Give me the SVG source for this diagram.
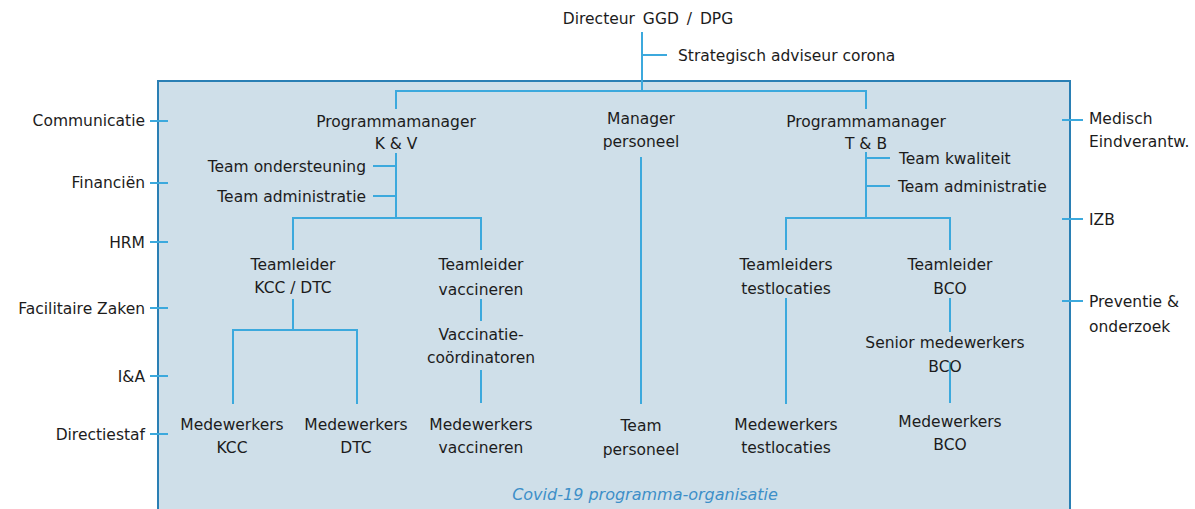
<svg xmlns="http://www.w3.org/2000/svg" width="1195" height="509" viewBox="0 0 1195 509">
<style>
text{font-family:"DejaVu Sans","Noto Sans",sans-serif;font-size:15.5px;fill:#1c1c1c}
.m{text-anchor:middle}
.e{text-anchor:end}
.cap{font-style:italic;fill:#3d8fc8;font-size:16px}
.ln{stroke:#3ca9dd;stroke-width:2;fill:none}
</style>
<rect width="1195" height="509" fill="#ffffff"/>
<rect id="frame" x="158" y="81" width="912" height="440" fill="#cfdfe9" stroke="#2a7fb4" stroke-width="2"/>
<g id="connectors" class="ln">
<path d="M642 32V91M642 55H667"/>
<path d="M396 109V91H866V109"/>
<path d="M396 153V218M373 166H396M373 196H396"/>
<path d="M293 250V218H481V250"/>
<path d="M293 299V330M233 404V330H357V404"/>
<path d="M481 299V321M481 370V403"/>
<path d="M641 157V404"/>
<path d="M866 152V218M866 158H890M866 186H890"/>
<path d="M786 250V218H950V250"/>
<path d="M786 298V404"/>
<path d="M950 298V332M950 362V403"/>
<path d="M150 121H168M150 183H168M150 242H168M150 308H168M150 376H168M150 434H168"/>
<path d="M1062 120H1083M1062 219H1083M1062 301H1083"/>
</g>
<g id="directeur"><text class="m" x="648" y="24" word-spacing="3">Directeur GGD / DPG</text></g>
<g id="strategisch"><text x="678" y="61">Strategisch adviseur corona</text></g>
<g id="pm-kv"><text class="m" x="396" y="127">Programmamanager</text><text class="m" x="396" y="149">K &amp; V</text></g>
<g id="team-ondersteuning"><text class="e" x="366" y="172">Team ondersteuning</text></g>
<g id="team-admin-kv"><text class="e" x="366" y="202">Team administratie</text></g>
<g id="manager-personeel"><text class="m" x="641" y="124">Manager</text><text class="m" x="641" y="147">personeel</text></g>
<g id="pm-tb"><text class="m" x="866" y="127">Programmamanager</text><text class="m" x="866" y="149">T &amp; B</text></g>
<g id="team-kwaliteit"><text x="899" y="164">Team kwaliteit</text></g>
<g id="team-admin-tb"><text x="898" y="192">Team administratie</text></g>
<g id="tl-kcc"><text class="m" x="293" y="270">Teamleider</text><text class="m" x="293" y="293">KCC / DTC</text></g>
<g id="tl-vacc"><text class="m" x="481" y="270">Teamleider</text><text class="m" x="481" y="295">vaccineren</text></g>
<g id="vacc-coord"><text class="m" x="481" y="340">Vaccinatie-</text><text class="m" x="481" y="363">coördinatoren</text></g>
<g id="mw-kcc"><text class="m" x="232" y="430">Medewerkers</text><text class="m" x="232" y="453">KCC</text></g>
<g id="mw-dtc"><text class="m" x="356" y="430">Medewerkers</text><text class="m" x="356" y="453">DTC</text></g>
<g id="mw-vacc"><text class="m" x="481" y="430">Medewerkers</text><text class="m" x="481" y="453">vaccineren</text></g>
<g id="team-personeel"><text class="m" x="641" y="431">Team</text><text class="m" x="641" y="455">personeel</text></g>
<g id="tl-test"><text class="m" x="786" y="270">Teamleiders</text><text class="m" x="786" y="294">testlocaties</text></g>
<g id="mw-test"><text class="m" x="786" y="430">Medewerkers</text><text class="m" x="786" y="453">testlocaties</text></g>
<g id="tl-bco"><text class="m" x="950" y="270">Teamleider</text><text class="m" x="950" y="294">BCO</text></g>
<g id="senior-bco"><text class="m" x="945" y="348">Senior medewerkers</text><text class="m" x="945" y="372">BCO</text></g>
<g id="mw-bco"><text class="m" x="950" y="427">Medewerkers</text><text class="m" x="950" y="450">BCO</text></g>
<g id="communicatie"><text class="e" x="145" y="126">Communicatie</text></g>
<g id="financien"><text class="e" x="145" y="188">Financiën</text></g>
<g id="hrm"><text class="e" x="145" y="248">HRM</text></g>
<g id="facilitaire"><text class="e" x="145" y="314">Facilitaire Zaken</text></g>
<g id="ia"><text class="e" x="145" y="382">I&amp;A</text></g>
<g id="directiestaf"><text class="e" x="145" y="440">Directiestaf</text></g>
<g id="medisch"><text x="1089" y="124">Medisch</text><text x="1089" y="147">Eindverantw.</text></g>
<g id="izb"><text x="1089" y="225">IZB</text></g>
<g id="preventie"><text x="1089" y="307">Preventie &amp;</text><text x="1089" y="332">onderzoek</text></g>
<g id="caption"><text class="m cap" x="645" y="500">Covid-19 programma-organisatie</text></g>
</svg>
